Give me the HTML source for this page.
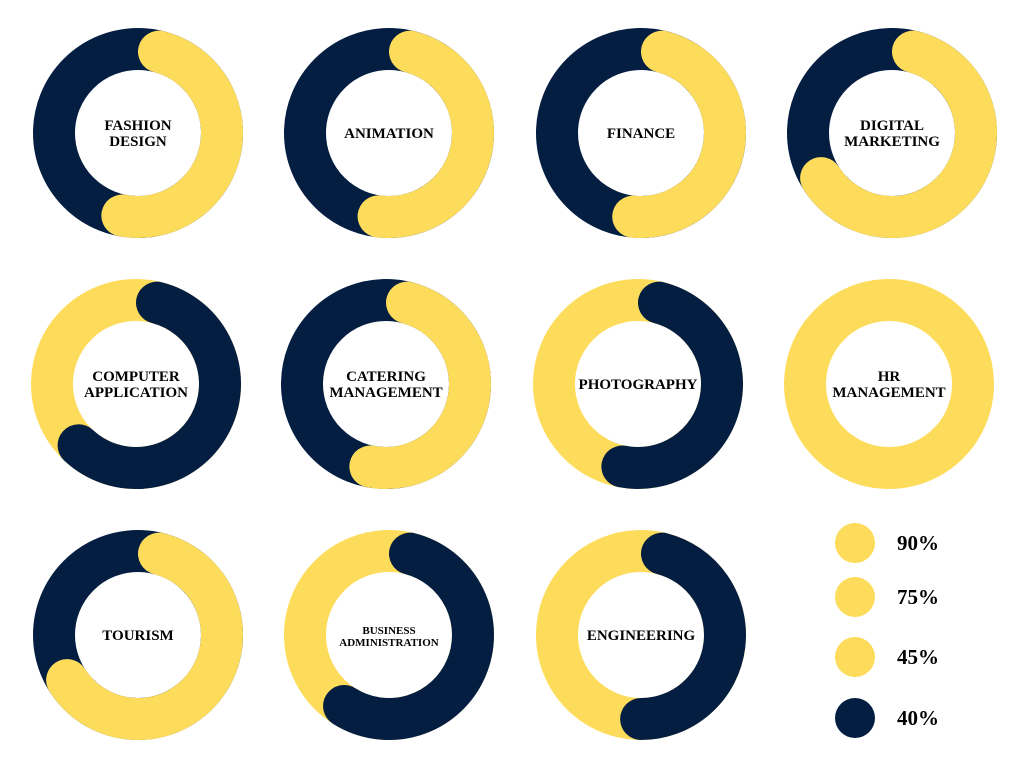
<!DOCTYPE html>
<html><head><meta charset="utf-8"><style>
body{margin:0;background:#fff;}
svg{display:block;}
text{font-family:"Liberation Serif",serif;font-weight:bold;fill:#000;}
</style></head><body>
<svg id="c" width="1024" height="768" viewBox="0 0 1024 768"></svg>
<script>
const labels=[["FASHION","DESIGN"],["ANIMATION"],["FINANCE"],["DIGITAL","MARKETING"],["COMPUTER","APPLICATION"],["CATERING","MANAGEMENT"],["PHOTOGRAPHY"],["HR","MANAGEMENT"],["TOURISM"],["BUSINESS","ADMINISTRATION"],["ENGINEERING"]];
const values=[0.57,0.56,0.555,0.70,0.66,0.57,0.57,1.0,0.70,0.63,0.54];
const arcColor=["y","y","y","y","n","y","n","y","y","n","n"];
const legendValues=["90%","75%","45%","40%"];
const legendColor=["y","y","y","n"];
const Y="#FDDC5C",N="#041E42";
const svg=document.getElementById('c');
const NS="http://www.w3.org/2000/svg";
const cxs=[[138,389,641,892],[136,386,638,889],[138,389,641]],cys=[133,384,635];
const R=84,W=42,capA=Math.asin(21/84);
function pt(cx,cy,a){return [cx+R*Math.sin(a),cy-R*Math.cos(a)];}
let i=0;
cxs.forEach((row,r)=>row.forEach(cx=>{
 const cy=cys[r],v=values[i],arc=arcColor[i]==="y"?Y:N,bg=arc===Y?N:Y;
 const g=document.createElementNS(NS,'g');
 
 
 const c=document.createElementNS(NS,'circle');
 c.setAttribute('cx',cx);c.setAttribute('cy',cy);c.setAttribute('r',R);
 c.setAttribute('fill','none');c.setAttribute('stroke',v>=1?arc:bg);c.setAttribute('stroke-width',W);
 
 
 g.appendChild(c);
 if(v<1){
  const a0=capA,a1=v*2*Math.PI-capA;
  const p0=pt(cx,cy,a0),p1=pt(cx,cy,a1);
  const large=(a1-a0)>Math.PI?1:0;
  const p=document.createElementNS(NS,'path');
  p.setAttribute('d',`M${p0[0]},${p0[1]} A${R},${R} 0 ${large} 1 ${p1[0]},${p1[1]}`);
  p.setAttribute('fill','none');p.setAttribute('stroke',arc);p.setAttribute('stroke-width',W);p.setAttribute('stroke-linecap','round');
  
  
  g.appendChild(p);
 }
 const L=labels[i],small=L[1]==="ADMINISTRATION";
 const fs=small?11:15;
 L.forEach((t,k)=>{
  const tx=document.createElementNS(NS,'text');
  tx.setAttribute('x',cx);tx.setAttribute('y',cy+5+(k-(L.length-1)/2)*(small?12:16));
  tx.setAttribute('text-anchor','middle');tx.setAttribute('font-size',fs);
  
  
  tx.textContent=t;g.appendChild(tx);
 });
 svg.appendChild(g);i++;
}));
const ly=[543,597,657,718];
legendValues.forEach((t,k)=>{
 const g=document.createElementNS(NS,'g');
 
 
 const c=document.createElementNS(NS,'circle');
 c.setAttribute('cx',855);c.setAttribute('cy',ly[k]);c.setAttribute('r',20);
 c.setAttribute('fill',legendColor[k]==="y"?Y:N);
 
 
 g.appendChild(c);
 const tx=document.createElementNS(NS,'text');
 tx.setAttribute('x',897);tx.setAttribute('y',ly[k]+7);tx.setAttribute('font-size',21);
 
 
 tx.textContent=t;g.appendChild(tx);
 svg.appendChild(g);
});
</script>
</body></html>
